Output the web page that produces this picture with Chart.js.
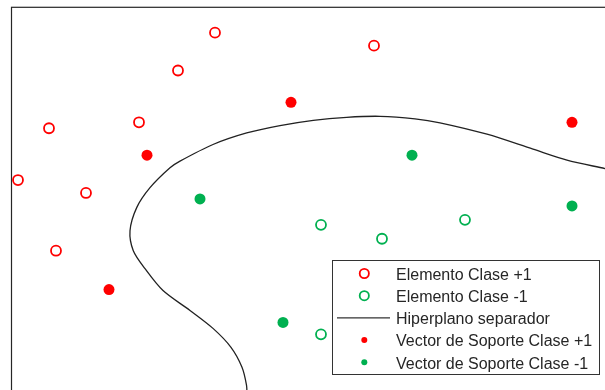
<!DOCTYPE html>
<html>
<head>
<meta charset="utf-8">
<script src="https://cdn.jsdelivr.net/npm/chart.js@4.4.1/dist/chart.umd.min.js"></script>
<style>
  html, body { margin: 0; padding: 0; background: #fff; overflow: hidden; }
  canvas { display: block; }
</style>
</head>
<body>
<canvas id="grafico-svm" width="640" height="420"></canvas>
<script>
// Elementos de cada clase (x, y)
const claseMasX = [2.04, 3.63, 1.67, 0.38, 1.28, 0.07, 0.75, 0.45];
const claseMasY = [3.79, 3.66, 3.41, 2.83, 2.89, 2.31, 2.18, 1.60];
const claseMenosX = [3.10, 3.71, 4.54, 3.10];
const claseMenosY = [1.86, 1.72, 1.91, 0.76];

// Vectores de soporte
const soporteMasX = [2.80, 1.36, 5.61, 0.98];
const soporteMasY = [3.09, 2.56, 2.89, 1.21];
const soporteMenosX = [1.89, 4.01, 5.61, 2.72];
const soporteMenosY = [2.12, 2.56, 2.05, 0.88];

// Frontera de decisión
const hiperplanoX = [2.36, 2.355, 2.31, 2.20, 2.02, 1.79, 1.52, 1.34, 1.223, 1.19, 1.257, 1.39, 1.59, 1.69,
                     2.02, 2.357, 2.69, 3.023, 3.357, 3.69, 4.04, 4.29, 4.76, 5.22, 5.56, 5.94, 6.14];
const hiperplanoY = [0.15, 0.25, 0.43, 0.63, 0.82, 1.00, 1.20, 1.42, 1.60, 1.80, 2.033, 2.233, 2.433, 2.50,
                     2.667, 2.783, 2.857, 2.91, 2.94, 2.95, 2.925, 2.885, 2.77, 2.62, 2.51, 2.425, 2.38];

const etiquetas = ['Elemento Clase +1', 'Elemento Clase -1', 'Hiperplano separador',
                   'Vector de Soporte Clase +1', 'Vector de Soporte Clase -1'];

const ROJO = '#ff0000';
const VERDE = '#00b050';

function puntos(xs, ys) {
    return xs.map((x, i) => ({ x: x, y: ys[i] }));
}

// Marco de los ejes (solo se ven los bordes izquierdo y superior)
const marcoEjes = {
    id: 'marcoEjes',
    beforeDatasetsDraw(chart) {
        const { ctx, chartArea } = chart;
        ctx.save();
        ctx.strokeStyle = '#262626';
        ctx.lineWidth = 1.2;
        ctx.strokeRect(chartArea.left + 0.5, chartArea.top + 0.5,
                       chartArea.right - chartArea.left, chartArea.bottom - chartArea.top);
        ctx.restore();
    }
};

// Leyenda dentro del área de los ejes
const leyendaInterna = {
    id: 'leyendaInterna',
    afterDraw(chart) {
        const ctx = chart.ctx;
        const caja = { x: 332, y: 260, w: 267, h: 114 };
        const paso = 22.2;
        const iconoX = 364.3;
        ctx.save();
        ctx.fillStyle = '#fff';
        ctx.fillRect(caja.x, caja.y, caja.w, caja.h);
        ctx.strokeStyle = '#333';
        ctx.lineWidth = 1;
        ctx.strokeRect(caja.x + 0.5, caja.y + 0.5, caja.w, caja.h);

        ctx.font = '16px "Liberation Sans", Arial, sans-serif';
        ctx.textBaseline = 'alphabetic';
        chart.data.datasets.forEach((ds, i) => {
            const cy = caja.y + 13.5 + i * paso;
            if (ds.showLine) {
                ctx.strokeStyle = '#333';
                ctx.lineWidth = 1.2;
                ctx.beginPath();
                ctx.moveTo(337, cy);
                ctx.lineTo(390, cy);
                ctx.stroke();
            } else if (ds.pointBackgroundColor === '#fff') {
                ctx.strokeStyle = ds.pointBorderColor;
                ctx.lineWidth = 1.8;
                ctx.beginPath();
                ctx.arc(iconoX, cy, 4.6, 0, Math.PI * 2);
                ctx.stroke();
            } else {
                ctx.fillStyle = ds.pointBackgroundColor;
                ctx.beginPath();
                ctx.arc(iconoX, cy, 3, 0, Math.PI * 2);
                ctx.fill();
            }
            ctx.fillStyle = '#262626';
            ctx.fillText(ds.label, 396, cy + 6.2);
        });
        ctx.restore();
    }
};

new Chart(document.getElementById('grafico-svm'), {
    type: 'scatter',
    data: {
        datasets: [
            {
                label: etiquetas[0],
                data: puntos(claseMasX, claseMasY),
                pointStyle: 'circle',
                pointRadius: 5,
                pointBorderWidth: 1.8,
                pointBorderColor: ROJO,
                pointBackgroundColor: '#fff'
            },
            {
                label: etiquetas[1],
                data: puntos(claseMenosX, claseMenosY),
                pointStyle: 'circle',
                pointRadius: 5,
                pointBorderWidth: 1.8,
                pointBorderColor: VERDE,
                pointBackgroundColor: '#fff'
            },
            {
                label: etiquetas[2],
                data: puntos(hiperplanoX, hiperplanoY),
                showLine: true,
                borderColor: '#222',
                borderWidth: 1.3,
                tension: 0.3,
                pointRadius: 0,
                fill: false
            },
            {
                label: etiquetas[3],
                data: puntos(soporteMasX, soporteMasY),
                pointStyle: 'circle',
                pointRadius: 5.5,
                pointBorderWidth: 0,
                pointBorderColor: ROJO,
                pointBackgroundColor: ROJO
            },
            {
                label: etiquetas[4],
                data: puntos(soporteMenosX, soporteMenosY),
                pointStyle: 'circle',
                pointRadius: 5.5,
                pointBorderWidth: 0,
                pointBorderColor: VERDE,
                pointBackgroundColor: VERDE
            }
        ]
    },
    options: {
        responsive: false,
        animation: false,
        devicePixelRatio: 1,
        layout: {
            padding: { left: 11, top: 5, right: 9, bottom: 10 }
        },
        plugins: {
            legend: { display: false },
            tooltip: { enabled: false }
        },
        scales: {
            x: { type: 'linear', min: 0, max: 6.2, display: false },
            y: { type: 'linear', min: 0, max: 4.05, display: false }
        }
    },
    plugins: [marcoEjes, leyendaInterna]
});
</script>
</body>
</html>
